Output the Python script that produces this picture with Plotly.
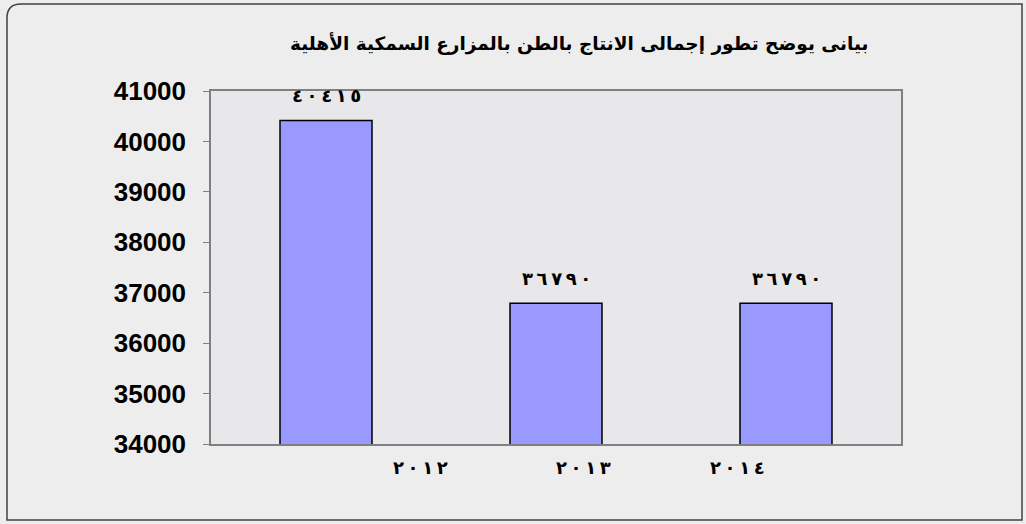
import plotly.graph_objects as go

years = ["2012", "2013", "2014"]
production = [40415, 36790, 36790]
year_labels_ar = ["٢٠١٢", "٢٠١٣", "٢٠١٤"]
year_label_pos = [0.41, 1.12, 1.79]
y_ticks = [34000, 35000, 36000, 37000, 38000, 39000, 40000, 41000]
title_text = "بيانى يوضح تطور إجمالى الانتاج بالطن بالمزارع السمكية الأهلية"

AR_DIGITS = str.maketrans("0123456789", "٠١٢٣٤٥٦٧٨٩")


def spaced(s):
    # left-to-right override keeps digit order while adding thin spacing
    return "\u202D" + "\u2009".join(s) + "\u202C"


W, H = 1026, 524
l, r, t, b = 211, 125, 91, 80
pw, ph = W - l - r, H - t - b


def px(x):
    return (x - l) / pw


def py(y):
    return (H - b - y) / ph


fig = go.Figure()
fig.add_trace(go.Bar(
    x=years, y=production,
    marker=dict(color="#9999FF", line=dict(color="#000000", width=1.5)),
    width=0.4,
    hoverinfo="x+y",
))

annotations = []
for i, v in enumerate(production):
    annotations.append(dict(
        x=i, y=v, xref="x", yref="y",
        text="<b>" + spaced(str(v).translate(AR_DIGITS)) + "</b>",
        showarrow=False, yshift=25, xanchor="center", yanchor="middle",
        font=dict(family="DejaVu Sans", size=18, color="#000000"),
    ))
for pos, lab in zip(year_label_pos, year_labels_ar):
    annotations.append(dict(
        x=pos, y=0, xref="x", yref="paper", text="<b>" + spaced(lab) + "</b>",
        showarrow=False, yshift=-23, xanchor="center", yanchor="middle",
        font=dict(family="DejaVu Sans", size=18, color="#000000"),
    ))
annotations.append(dict(
    x=px(579), y=py(44), xref="paper", yref="paper", text="<b>" + title_text + "</b>",
    showarrow=False, xanchor="center", yanchor="middle",
    font=dict(family="DejaVu Sans", size=18.5, color="#000000"),
))

x0, x1, y0, y1, rad = 7, 1022, 4, 520, 14
path = (f"M {px(x0+rad)},{py(y0)} L {px(x1)},{py(y0)} L {px(x1)},{py(y1)} "
        f"L {px(x0)},{py(y1)} L {px(x0)},{py(y0+rad)} "
        f"Q {px(x0)},{py(y0)} {px(x0+rad)},{py(y0)} Z")

fig.update_layout(
    width=W, height=H,
    margin=dict(l=l, r=r, t=t, b=b),
    paper_bgcolor="#ededed",
    plot_bgcolor="#e8e8ea",
    showlegend=False,
    annotations=annotations,
    shapes=[dict(type="path", xref="paper", yref="paper", path=path,
                 line=dict(color="#404040", width=1.5), layer="below")],
    xaxis=dict(
        type="category", range=[-0.5, 2.5],
        showticklabels=False, ticks="",
        showline=True, linecolor="#808080", linewidth=1.5, mirror=True,
        showgrid=False, zeroline=False, fixedrange=True,
    ),
    yaxis=dict(
        range=[34000, 41000], tickvals=y_ticks,
        ticktext=[f"<b>{v}</b>" for v in y_ticks],
        ticks="outside", ticklen=6, tickcolor="#808080", tickwidth=1,
        ticklabelstandoff=12,
        tickfont=dict(family="Arial, Liberation Sans", size=26, color="#000000"),
        showline=True, linecolor="#808080", linewidth=1.5, mirror=True,
        showgrid=False, zeroline=False,
    ),
)

fig.write_html("out.html", config={"displayModeBar": False},
               post_script="document.body.style.margin='0';")
